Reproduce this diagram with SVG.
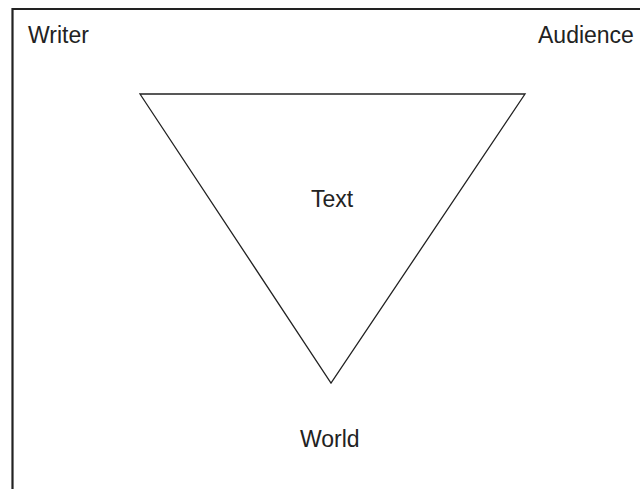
<svg xmlns="http://www.w3.org/2000/svg" width="640" height="489" viewBox="0 0 640 489">
<style>
.lbl{font-family:"Liberation Sans",Arial,sans-serif;font-size:23px;fill:#222}
.edge{fill:none;stroke:#222;stroke-width:1.3}
</style>
<rect width="640" height="489" fill="#fff"/>
<g id="frame"><path d="M12.5,495 L12.5,9 L645,9" fill="none" stroke="#222" stroke-width="2.2"/></g>
<g id="connectors"><polygon class="edge" points="140,94 525,94 331,383"/></g>
<g id="writer"><text class="lbl" x="28" y="43">Writer</text></g>
<g id="audience"><text class="lbl" x="538" y="43">Audience</text></g>
<g id="text"><text class="lbl" x="311" y="207">Text</text></g>
<g id="world"><text class="lbl" x="300" y="447">World</text></g>
</svg>
